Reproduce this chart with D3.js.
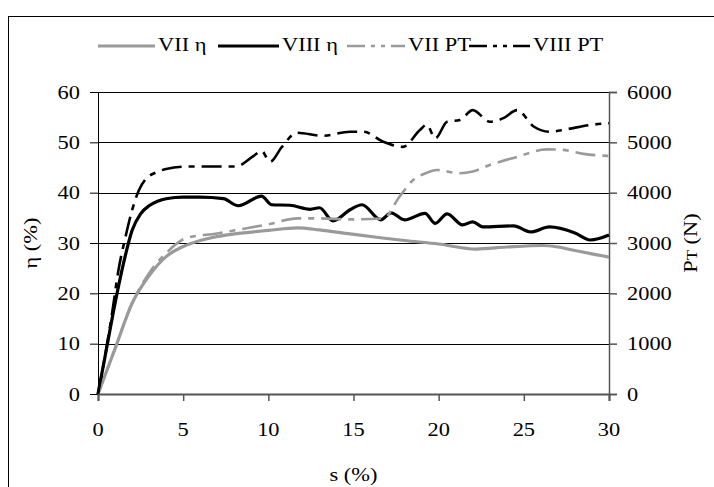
<!DOCTYPE html>
<html><head><meta charset="utf-8">
<script src="https://cdn.jsdelivr.net/npm/d3@7"></script>
<style>html,body{margin:0;padding:0;background:#fff;}svg{display:block;}</style>
</head><body>
<svg id="c" width="714" height="487"></svg>
<script>
// ---- data ----
const xTicks = [0,5,10,15,20,25,30];
const yTicksL = [0,10,20,30,40,50,60];
const yTicksR = [0,1000,2000,3000,4000,5000,6000];

const sVIIeta   = [0,1,2,3,4,5,6,7,8,10,11.7,13,14.8,16.7,18,20,22.2,24,26.1,27,28,30];
const etaVII    = [0,9,18,23.5,27.3,29.3,30.5,31.3,31.8,32.5,33.0,32.6,31.8,31,30.5,29.8,28.8,29.2,29.5,29.2,28.5,27.2];

const sVIIIeta  = [0,0.5,1,1.5,2,2.5,3,3.5,4,5,6,7.36,8.24,9.6,10.2,11.27,12.45,13,13.8,14.8,15.5,16.6,17.2,18,19.2,19.8,20.5,21.4,22,22.6,24.4,25.4,26.5,28,28.9,30];
const etaVIII   = [0,9,18,26,32.5,35.8,37.4,38.3,38.8,39.1,39.1,38.8,37.4,39.3,37.6,37.5,36.7,37.0,34.4,36.6,37.6,34.6,36.0,34.6,35.9,33.9,35.8,33.6,34.2,33.2,33.4,32.2,33.2,32,30.6,31.6];

const sVIIpt    = [0,1,2,3,4,5.2,7,8.5,10.1,11.7,13,14.8,16.75,17.7,18.5,19.2,19.9,21.25,22,23,24.5,26.35,27.3,28.5,30];
const ptVII     = [0,900,1800,2400,2800,3100,3190,3280,3378,3490,3490,3470,3490,3920,4250,4380,4450,4385,4420,4550,4700,4860,4850,4770,4730];

const sVIIIpt   = [0,0.8,1.2,1.6,2.0,2.4,2.8,3.4,4,5.4,8.1,9.1,9.6,10.1,10.8,11.67,13.2,14.8,15.6,16.75,17.9,18.9,19.3,19.8,20.5,21.25,22.0,23.0,23.8,24.6,25.6,26.5,27.5,28.9,30];
const ptVIII    = [0,1540,2460,3100,3650,4050,4270,4400,4470,4520,4520,4720,4830,4615,4910,5190,5130,5210,5210,5010,4910,5245,5350,5080,5410,5445,5640,5410,5480,5640,5310,5210,5260,5345,5380];

const legendLabels = ["VII \u03b7","VIII \u03b7","VII PT","VIII PT"];

// ---- layout ----
const svg = d3.select("#c");
const L = 98, R = 609, T = 92, B = 394;
const x = d3.scaleLinear().domain([0,30]).range([L,R]);
const yL = d3.scaleLinear().domain([0,60]).range([B,T]);
const yR = d3.scaleLinear().domain([0,6000]).range([B,T]);
const FONT = "'Liberation Serif','Times New Roman',serif";
const FS = 19, SX = 1.18;
const GRAY = "#9a9a9a";

function txt(px, py, s, anchor, rot) {
  const t = svg.append("text")
    .attr("transform", `translate(${px},${py})` + (rot ? ` rotate(${rot})` : "") + ` scale(${SX},1)`)
    .attr("text-anchor", anchor || "start")
    .attr("font-family", FONT).attr("font-size", FS).attr("fill", "#000");
  t.text(s);
  return t;
}

// outer border
svg.append("rect").attr("x", 8.5).attr("y", 16.5).attr("width", 800).attr("height", 600)
  .attr("fill", "none").attr("stroke", "#000").attr("stroke-width", 1);

// gridlines
svg.append("g").selectAll("line").data(yTicksL.filter(d => d > 0)).join("line")
  .attr("x1", L).attr("x2", R).attr("y1", d => Math.round(yL(d)) + 0.5).attr("y2", d => Math.round(yL(d)) + 0.5)
  .attr("stroke", "#000").attr("stroke-width", 1);

// axes
const axL = svg.append("g").attr("transform", `translate(${L},0)`)
  .call(d3.axisLeft(yL).tickValues(yTicksL).tickSize(8).tickFormat(""));
axL.select(".domain").attr("stroke", "#000");
axL.selectAll(".tick line").attr("stroke", "#000");

const axR = svg.append("g").attr("transform", `translate(${R},0)`)
  .call(d3.axisRight(yR).tickValues(yTicksR).tickSize(8).tickFormat(""));
axR.select(".domain").attr("stroke", "#555").attr("stroke-width", 1.5);
axR.selectAll(".tick line").attr("stroke", "#555").attr("stroke-width", 1.5);

const axB = svg.append("g").attr("transform", `translate(0,${B})`)
  .call(d3.axisBottom(x).tickValues(xTicks).tickSize(7).tickFormat(""));
axB.select(".domain").attr("stroke", "#555").attr("stroke-width", 2);
axB.selectAll(".tick line").attr("stroke", "#555").attr("stroke-width", 1.5);

// tick labels
yTicksL.forEach(d => txt(80, yL(d) + 6.5, String(d), "end"));
yTicksR.forEach(d => txt(627, yR(d) + 6.5, String(d), "start"));
xTicks.forEach(d => txt(x(d), 436, String(d), "middle"));

// axis titles
txt((L + R) / 2, 481, "s (%)", "middle");
svg.append("text")
  .attr("transform", `translate(37,${(T + B) / 2}) rotate(-90) scale(${SX},1)`)
  .attr("text-anchor", "middle").attr("font-family", FONT).attr("font-size", FS).text("\u03b7 (%)");
{
  const t = svg.append("text")
    .attr("transform", `translate(697,${(T + B) / 2}) rotate(-90) scale(${SX},1)`)
    .attr("text-anchor", "middle").attr("font-family", FONT).attr("font-size", FS);
  t.append("tspan").text("P");
  t.append("tspan").attr("font-size", FS * 0.75).text("T");
  t.append("tspan").text(" (N)");
}

// series
const curve = d3.curveMonotoneX;
const lineL = d3.line().x(d => x(d[0])).y(d => yL(d[1])).curve(curve);
const lineR = d3.line().x(d => x(d[0])).y(d => yR(d[1])).curve(curve);
const zip = (a, b) => a.map((v, i) => [v, b[i]]);

const DASH = "20,7,6,7";
const LEGDASH = "18,6,4,6,4,6";
const series = [
  {d: zip(sVIIeta, etaVII), gen: lineL, color: GRAY, w: 3.2, dash: null, ld: null},
  {d: zip(sVIIIeta, etaVIII), gen: lineL, color: "#000", w: 3.2, dash: null, ld: null},
  {d: zip(sVIIpt, ptVII), gen: lineR, color: GRAY, w: 2.6, dash: DASH, ld: LEGDASH},
  {d: zip(sVIIIpt, ptVIII), gen: lineR, color: "#000", w: 2.6, dash: DASH, ld: LEGDASH}
];
series.forEach(s => {
  svg.append("path").attr("d", s.gen(s.d)).attr("fill", "none")
    .attr("stroke", s.color).attr("stroke-width", s.w)
    .attr("stroke-dasharray", s.dash).attr("stroke-linejoin", "round");
});

// legend
const legX = [98, 218, 347, 469];
const legLen = [57, 61, 58, 61];
series.forEach((s, i) => {
  svg.append("line").attr("x1", legX[i]).attr("x2", legX[i] + legLen[i])
    .attr("y1", 46).attr("y2", 46)
    .attr("stroke", s.color).attr("stroke-width", s.w).attr("stroke-dasharray", s.ld);
  txt(legX[i] + legLen[i] + 3, 51, legendLabels[i], "start");
});
</script>
</body></html>
